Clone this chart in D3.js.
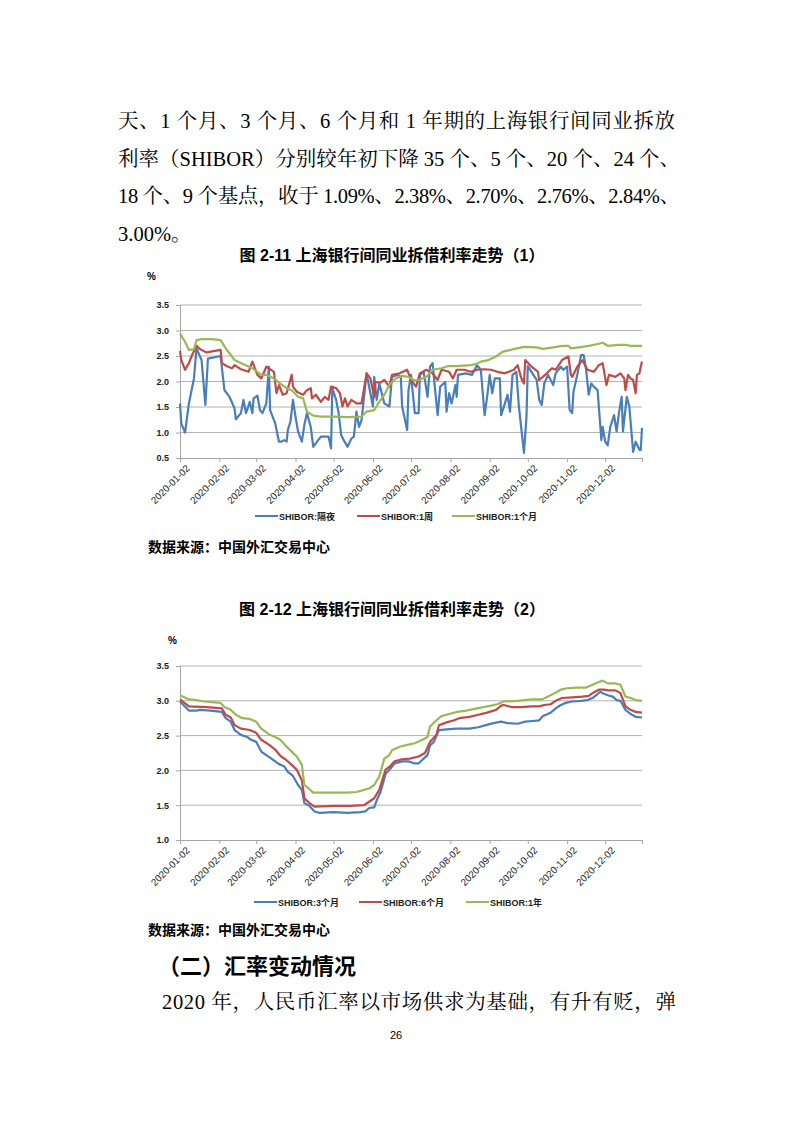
<!DOCTYPE html>
<html>
<head>
<meta charset="utf-8">
<script src="https://cdn.jsdelivr.net/npm/d3@7"></script>
<style>
  html, body { margin: 0; padding: 0; background: #fff; }
  svg { display: block; }
</style>
</head>
<body>
<svg id="page" width="793" height="1122"></svg>
<script>
/* ---------- data: [month-day of 2020, rate %] ---------- */
const overnight = [
  ["01-02",1.57],["01-03",1.18],["01-06",1.00],["01-09",1.57],["01-13",2.06],["01-15",2.65],["01-19",2.42],["01-22",1.54],["01-24",2.45],
  ["02-03",2.50],["02-06",1.83],["02-10",1.70],["02-14",1.47],["02-15",1.26],["02-19",1.38],["02-21",1.64],["02-23",1.38],["02-26",1.60],["02-28",1.38],["02-29",1.67],
  ["03-03",1.72],["03-05",1.44],["03-07",1.38],["03-10",1.57],["03-12",2.29],["03-13",1.44],["03-17",1.18],["03-20",0.82],["03-22",0.82],["03-24",0.85],["03-26",0.82],["03-27",1.05],["03-29",1.21],["03-31",1.64],
  ["04-02",1.31],["04-04",1.02],["04-07",0.82],["04-09",1.15],["04-11",1.38],["04-14",1.11],["04-16",0.72],["04-19",0.82],["04-22",0.92],["04-25",0.92],["04-28",0.92],["04-30",0.69],
  ["05-01",1.87],["05-04",1.64],["05-06",1.38],["05-08",0.95],["05-10",0.85],["05-13",0.72],["05-16",0.88],["05-18",0.92],["05-20",1.41],["05-22",1.11],["05-24",1.24],["05-28",2.16],["05-31",1.77],
  ["06-02",1.51],["06-03",2.09],["06-05",1.64],["06-07",1.96],["06-11",1.57],["06-15",1.51],["06-17",2.09],["06-21",2.13],["06-24",2.09],["06-25",1.51],["06-29",1.05],["06-30",1.83],
  ["07-02",2.13],["07-05",1.38],["07-08",1.38],["07-09",2.13],["07-12",2.19],["07-15",1.70],["07-17",2.29],["07-19",2.36],["07-21",1.83],["07-23",1.34],["07-25",1.90],["07-29",1.99],["07-30",1.41],
  ["08-01",1.77],["08-03",1.57],["08-06",1.93],["08-07",1.70],["08-08",2.13],["08-14",2.16],["08-19",2.13],["08-23",2.32],["08-26",2.23],["08-29",1.34],["08-31",1.70],
  ["09-02",2.13],["09-04",1.77],["09-06",2.06],["09-10",2.06],["09-11",1.34],["09-14",1.57],["09-16",1.74],["09-18",1.41],["09-20",2.13],["09-23",2.19],["09-25",1.51],["09-29",0.60],
  ["10-01",1.31],["10-02",2.30],["10-09",2.03],["10-11",1.64],["10-13",1.54],["10-15",1.96],["10-18",2.13],["10-22",1.93],["10-24",2.16],["10-28",2.29],["10-30",2.23],
  ["11-02",2.29],["11-04",1.44],["11-06",1.38],["11-07",1.80],["11-10",2.13],["11-13",2.52],["11-15",2.52],["11-17",2.23],["11-19",1.74],["11-21",1.96],["11-23",1.90],["11-26",1.83],["11-29",0.85],["11-30",1.11],
  ["12-02",0.82],["12-04",0.75],["12-06",1.11],["12-09",1.34],["12-11",1.02],["12-13",1.41],["12-15",1.70],["12-16",1.02],["12-19",1.70],["12-21",1.51],["12-24",0.62],["12-26",0.82],["12-29",0.66],["12-30",0.66],["12-31",1.09]
];
const week1 = [
  ["01-02",2.60],["01-03",2.42],["01-06",2.23],["01-09",2.36],["01-11",2.49],["01-15",2.70],["01-18",2.63],["01-23",2.57],
  ["02-03",2.62],["02-04",2.36],["02-08",2.30],["02-12",2.26],["02-14",2.32],["02-19",2.24],["02-25",2.19],["02-28",2.39],
  ["03-03",2.13],["03-06",2.06],["03-10",2.29],["03-16",2.19],["03-18",1.77],["03-20",1.93],["03-23",1.74],["03-26",1.77],["03-30",2.13],["03-31",1.90],
  ["04-03",1.80],["04-08",1.74],["04-11",1.83],["04-14",1.87],["04-15",1.67],["04-18",1.74],["04-22",1.60],["04-25",1.70],["04-28",1.64],["04-30",1.90],
  ["05-04",1.87],["05-07",1.77],["05-09",1.51],["05-11",1.67],["05-13",1.51],["05-16",1.64],["05-20",1.57],["05-24",1.57],["05-28",2.16],["05-31",2.06],
  ["06-03",1.70],["06-04",1.99],["06-08",1.98],["06-11",2.03],["06-15",1.90],["06-17",2.13],["06-23",2.16],["06-29",2.23],
  ["07-02",2.03],["07-06",1.90],["07-09",2.16],["07-14",2.23],["07-19",2.16],["07-23",2.03],["07-26",2.23],
  ["08-01",2.19],["08-04",2.06],["08-07",2.23],["08-13",2.23],["08-18",2.19],["08-23",2.23],["08-29",2.24],
  ["09-03",2.23],["09-08",2.19],["09-14",2.16],["09-21",2.23],["09-24",2.32],["09-27",2.06],["09-29",1.96],["09-30",2.42],
  ["10-05",2.29],["10-10",2.19],["10-11",2.03],["10-17",2.16],["10-21",2.26],["10-24",2.23],["10-29",2.42],
  ["11-03",2.49],["11-05",2.13],["11-06",2.09],["11-10",2.29],["11-14",2.42],["11-18",2.23],["11-23",2.19],["11-27",2.32],["11-30",2.36],
  ["12-03",1.93],["12-05",2.13],["12-10",2.09],["12-14",2.16],["12-17",2.06],["12-18",1.83],["12-20",2.13],["12-22",2.06],["12-24",2.03],["12-26",1.77],["12-27",2.13],["12-29",2.16],["12-30",2.29],["12-31",2.39]
];
const month1 = [
  ["01-02",2.94],["01-06",2.78],["01-09",2.62],["01-13",2.63],["01-15",2.81],["01-19",2.83],["01-27",2.83],
  ["02-03",2.81],["02-07",2.65],["02-11",2.52],["02-14",2.42],["02-21",2.34],["02-28",2.26],
  ["03-06",2.13],["03-10",2.13],["03-16",2.06],["03-21",1.96],["03-26",1.87],["03-30",1.83],
  ["04-04",1.70],["04-08",1.67],["04-11",1.41],["04-16",1.33],["04-22",1.31],
  ["05-03",1.31],["05-13",1.30],["05-24",1.31],["05-28",1.41],
  ["06-03",1.44],["06-07",1.60],["06-11",1.74],["06-15",1.93],["06-20",2.06],["06-25",2.11],["06-30",2.09],
  ["07-05",2.02],["07-09",2.04],["07-14",2.09],["07-19",2.23],["07-26",2.26],["07-31",2.30],
  ["08-07",2.30],["08-18",2.32],["08-22",2.34],["08-26",2.39],
  ["09-01",2.42],["09-07",2.49],["09-12",2.58],["09-20",2.63],["09-29",2.68],
  ["10-09",2.67],["10-14",2.64],["10-22",2.67],["10-29",2.70],
  ["11-03",2.70],["11-05",2.65],["11-11",2.67],["11-19",2.70],["11-27",2.74],["11-30",2.76],
  ["12-04",2.70],["12-13",2.72],["12-18",2.72],["12-22",2.70],["12-31",2.70]
];
const month3 = [
  ["01-02",2.99],["01-09",2.86],["01-15",2.86],["01-18",2.87],["01-26",2.86],
  ["02-04",2.84],["02-07",2.75],["02-11",2.70],["02-14",2.58],["02-19",2.51],["02-24",2.48],["02-27",2.44],
  ["03-02",2.41],["03-06",2.27],["03-10",2.22],["03-14",2.17],["03-20",2.09],["03-24",2.06],["03-27",1.98],["03-31",1.92],
  ["04-04",1.79],["04-07",1.72],["04-09",1.53],["04-13",1.49],["04-17",1.41],["04-21",1.39],
  ["05-02",1.40],["05-13",1.39],["05-23",1.40],["05-27",1.41],["05-30",1.46],
  ["06-03",1.47],["06-05",1.57],["06-08",1.69],["06-12",1.95],["06-15",2.01],["06-19",2.10],["06-25",2.13],["06-30",2.13],
  ["07-05",2.10],["07-08",2.10],["07-12",2.17],["07-15",2.22],["07-17",2.36],["07-20",2.41],["07-24",2.58],["07-30",2.59],
  ["08-07",2.60],["08-17",2.60],["08-24",2.62],["08-30",2.65],
  ["09-05",2.68],["09-11",2.70],["09-16",2.68],["09-24",2.67],["09-30",2.70],
  ["10-06",2.71],["10-11",2.72],["10-14",2.78],["10-20",2.83],["10-24",2.89],["10-28",2.94],
  ["11-01",2.97],["11-06",2.99],["11-13",3.00],["11-18",3.01],["11-22",3.04],["11-25",3.08],["11-28",3.13],
  ["12-01",3.10],["12-04",3.08],["12-08",3.06],["12-11",3.01],["12-14",3.00],["12-18",2.87],["12-22",2.81],["12-26",2.77],["12-31",2.76]
];
const month6 = [
  ["01-02",3.02],["01-09",2.92],["01-23",2.91],
  ["02-04",2.89],["02-07",2.80],["02-11",2.76],["02-14",2.65],["02-19",2.60],["02-26",2.58],
  ["03-02",2.54],["03-06",2.44],["03-12",2.37],["03-17",2.30],["03-21",2.21],["03-25",2.16],["03-30",2.08],
  ["04-03",2.01],["04-07",1.86],["04-09",1.60],["04-13",1.53],["04-17",1.48],
  ["05-02",1.49],["05-15",1.49],["05-26",1.50],["05-30",1.55],
  ["06-03",1.60],["06-07",1.72],["06-12",2.01],["06-15",2.05],["06-19",2.13],["06-25",2.16],
  ["07-01",2.17],["07-08",2.20],["07-13",2.25],["07-17",2.41],["07-22",2.51],["07-24",2.65],["07-30",2.69],
  ["08-05",2.72],["08-09",2.75],["08-17",2.77],["08-24",2.80],["08-31",2.83],
  ["09-07",2.87],["09-11",2.93],["09-13",2.94],["09-19",2.91],["09-27",2.91],
  ["10-05",2.92],["10-11",2.92],["10-15",2.94],["10-20",2.95],["10-24",3.00],["10-29",3.04],
  ["11-06",3.05],["11-14",3.06],["11-19",3.07],["11-23",3.12],["11-27",3.16],
  ["12-01",3.16],["12-04",3.15],["12-10",3.15],["12-14",3.11],["12-18",2.92],["12-22",2.87],["12-26",2.84],["12-31",2.83]
];
const year1 = [
  ["01-02",3.08],["01-09",3.02],["01-15",3.01],["01-21",2.99],
  ["02-03",2.97],["02-06",2.91],["02-11",2.87],["02-15",2.80],["02-20",2.75],["02-26",2.74],
  ["03-02",2.70],["03-06",2.60],["03-12",2.52],["03-17",2.48],["03-21",2.44],["03-25",2.36],["03-30",2.27],
  ["04-03",2.20],["04-07",2.08],["04-09",1.79],["04-13",1.73],["04-16",1.68],["04-21",1.68],
  ["05-02",1.68],["05-13",1.68],["05-20",1.69],["05-26",1.72],["05-30",1.74],
  ["06-03",1.79],["06-07",1.91],["06-11",2.17],["06-15",2.22],["06-17",2.29],["06-23",2.34],["06-30",2.37],
  ["07-05",2.39],["07-11",2.44],["07-15",2.48],["07-17",2.63],["07-22",2.72],["07-26",2.78],
  ["08-01",2.81],["08-07",2.84],["08-15",2.86],["08-20",2.88],["08-28",2.91],
  ["09-03",2.93],["09-08",2.95],["09-13",2.99],["09-24",3.00],
  ["10-05",3.02],["10-13",3.02],["10-17",3.05],["10-22",3.10],["10-28",3.16],
  ["11-02",3.18],["11-09",3.19],["11-17",3.19],["11-22",3.23],["11-27",3.27],["11-30",3.29],
  ["12-04",3.25],["12-10",3.25],["12-14",3.23],["12-18",3.06],["12-22",3.04],["12-26",3.01],["12-31",3.00]
];

const tickDates = ["01-02","02-02","03-02","04-02","05-02","06-02","07-02","08-02","09-02","10-02","11-02","12-02"];
const chart1Ticks = [0.5, 1.0, 1.5, 2.0, 2.5, 3.0, 3.5];
const chart2Ticks = [1.0, 1.5, 2.0, 2.5, 3.0, 3.5];
const chart1Names = ["SHIBOR:隔夜", "SHIBOR:1周", "SHIBOR:1个月"];
const chart2Names = ["SHIBOR:3个月", "SHIBOR:6个月", "SHIBOR:1年"];

const bodyLines = [
  "天、1 个月、3 个月、6 个月和 1 年期的上海银行间同业拆放",
  "利率（SHIBOR）分别较年初下降 35 个、5 个、20 个、24 个、",
  "18 个、9 个基点，收于 1.09%、2.38%、2.70%、2.76%、2.84%、",
  "3.00%。"
];

/* ---------- page ---------- */
const COLORS = ['#4a7ebb', '#be4b48', '#98b954'];
const SERIF = '"Liberation Serif", "Noto Serif CJK SC", "Noto Sans CJK SC", serif';
const SANS  = '"Liberation Sans", "Noto Sans CJK SC", sans-serif';
const parse = d3.timeParse('%Y-%m-%d');
const toDate = (md) => parse('2020-' + md);

const svg = d3.select('#page');
svg.append('rect').attr('width', 793).attr('height', 1122).attr('fill', '#fff');

// body paragraph
bodyLines.forEach((t, i) => {
  const txt = svg.append('text')
    .attr('x', 118).attr('y', 128 + i * 37.5)
    .attr('font-family', SERIF).attr('font-size', 20.5)
    .attr('fill', '#000')
    .text(t);
  if (i < bodyLines.length - 1) {
    txt.attr('textLength', i === 0 ? 557 : 562).attr('lengthAdjust', 'spacing');
  }
});

/* ---------- chart drawing ---------- */
function drawChart(cfg) {
  const g = svg.append('g');

  g.append('text')
    .attr('x', 392).attr('y', cfg.titleY)
    .attr('text-anchor', 'middle')
    .attr('font-family', SANS).attr('font-weight', 'bold').attr('font-size', 16)
    .text(cfg.title);

  g.append('text')
    .attr('x', cfg.pctX).attr('y', cfg.pctY)
    .attr('font-family', SANS).attr('font-weight', 'bold').attr('font-size', 10)
    .text('%');

  const x = d3.scaleTime()
    .domain([toDate('01-02'), toDate('12-31')])
    .range([180, 642]);
  const y = d3.scaleLinear()
    .domain(cfg.yDomain)
    .range([cfg.bottom, cfg.top]);

  // gridlines
  g.append('g')
    .selectAll('line')
    .data(cfg.yTicks.slice(1))
    .join('line')
    .attr('x1', 180).attr('x2', 642)
    .attr('y1', (d) => y(d)).attr('y2', (d) => y(d))
    .attr('stroke', '#b3b3b3').attr('stroke-width', 1);

  // y axis
  const yAxis = g.append('g')
    .attr('transform', 'translate(180,0)')
    .call(d3.axisLeft(y).tickValues(cfg.yTicks).tickFormat(d3.format('.1f')).tickSizeOuter(0).tickSize(4));
  yAxis.select('.domain').attr('stroke', '#a6a6a6');
  yAxis.selectAll('.tick line').attr('stroke', '#a6a6a6');
  yAxis.selectAll('text')
    .attr('font-family', SANS).attr('font-weight', 'bold').attr('font-size', 9)
    .attr('fill', '#222').attr('dx', -4);

  // x axis
  const xTickVals = tickDates.map(toDate).concat([toDate('12-31')]);
  const xAxis = g.append('g')
    .attr('transform', `translate(0,${cfg.bottom})`)
    .call(d3.axisBottom(x).tickValues(xTickVals).tickSizeOuter(0).tickSize(4)
      .tickFormat((d, i) => i < tickDates.length ? d3.timeFormat('%Y-%m-%d')(d) : ''));
  xAxis.select('.domain').attr('stroke', '#a6a6a6');
  xAxis.selectAll('.tick line').attr('stroke', '#a6a6a6');
  xAxis.selectAll('text')
    .attr('font-family', SANS).attr('font-size', 9.8).attr('fill', '#222')
    .attr('text-anchor', 'end')
    .attr('dy', 0)
    .attr('transform', 'translate(5,6) rotate(-45)');

  // series
  const line = d3.line()
    .x((d) => x(toDate(d[0])))
    .y((d) => y(d[1]));
  cfg.series.forEach((s, i) => {
    g.append('path')
      .datum(s)
      .attr('d', line)
      .attr('fill', 'none')
      .attr('stroke', COLORS[i])
      .attr('stroke-width', 2.2)
      .attr('stroke-linejoin', 'round');
  });

  // legend
  const lg = g.append('g').attr('transform', `translate(0,${cfg.legendY})`);
  cfg.names.forEach((name, i) => {
    const lx = cfg.legendX[i];
    lg.append('line')
      .attr('x1', lx).attr('x2', lx + 23)
      .attr('stroke', COLORS[i]).attr('stroke-width', 2);
    lg.append('text')
      .attr('x', lx + 24).attr('y', 3.5)
      .attr('font-family', SANS).attr('font-weight', 'bold').attr('font-size', 9)
      .attr('fill', '#222')
      .text(name);
  });

  g.append('text')
    .attr('x', 148).attr('y', cfg.sourceY)
    .attr('font-family', SANS).attr('font-weight', 'bold').attr('font-size', 14)
    .text('数据来源：中国外汇交易中心');
}

drawChart({
  title: '图 2-11  上海银行间同业拆借利率走势（1）',
  titleY: 261, pctX: 147, pctY: 280,
  yDomain: [0.5, 3.5], yTicks: chart1Ticks, top: 305, bottom: 458,
  series: [overnight, week1, month1],
  names: chart1Names, legendX: [255, 357, 452], legendY: 516,
  sourceY: 552
});

drawChart({
  title: '图 2-12  上海银行间同业拆借利率走势（2）',
  titleY: 615, pctX: 168, pctY: 644,
  yDomain: [1.0, 3.5], yTicks: chart2Ticks, top: 666, bottom: 840,
  series: [month3, month6, year1],
  names: chart2Names, legendX: [254, 359, 466], legendY: 902,
  sourceY: 935
});

// section heading and following paragraph
svg.append('text')
  .attr('x', 158).attr('y', 974)
  .attr('font-family', '"Noto Sans CJK SC", sans-serif')
  .attr('font-weight', 'bold').attr('font-size', 22)
  .text('（二）汇率变动情况');

svg.append('text')
  .attr('x', 162).attr('y', 1009)
  .attr('font-family', SERIF).attr('font-size', 20.5)
  .attr('textLength', 514).attr('lengthAdjust', 'spacing')
  .text('2020 年，人民币汇率以市场供求为基础，有升有贬，弹');

svg.append('text')
  .attr('x', 396).attr('y', 1039)
  .attr('text-anchor', 'middle')
  .attr('font-family', SANS).attr('font-size', 11)
  .text('26');
</script>
</body>
</html>
